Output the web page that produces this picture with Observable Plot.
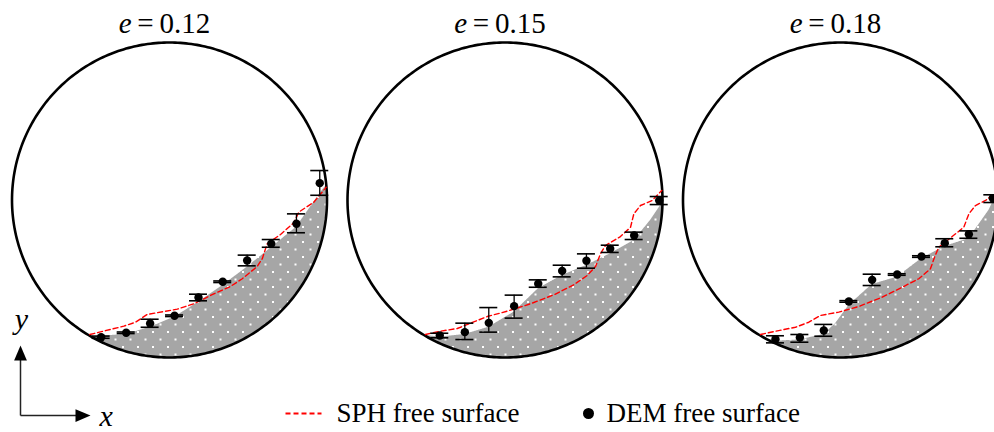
<!DOCTYPE html>
<html>
<head>
<meta charset="utf-8">
<script src="https://cdn.jsdelivr.net/npm/d3@7"></script>
<script src="https://cdn.jsdelivr.net/npm/@observablehq/plot@0.6"></script>
<style>
  html, body { margin: 0; padding: 0; background: #fff; overflow: hidden; }
  #chart svg { display: block; }
</style>
</head>
<body>
<div id="chart"></div>
<script>
// ===== DATA (drum coordinates: origin at drum centre, unit = drum radius) =====
const eLabels = ["0.12", "0.15", "0.18"];

// --- e = 0.12 ---
const demX_012  = [-0.434, -0.275, -0.123, 0.032, 0.184, 0.338, 0.493, 0.646, 0.806, 0.954];
const demY_012  = [-0.871, -0.843, -0.784, -0.735, -0.619, -0.519, -0.384, -0.278, -0.151, 0.107];
const demLo_012 = [-0.878, -0.848, -0.808, -0.740, -0.640, -0.524, -0.418, -0.300, -0.208, 0.030];
const demHi_012 = [-0.864, -0.838, -0.757, -0.730, -0.598, -0.514, -0.350, -0.251, -0.088, 0.187];
const sphX_012  = [-0.506, -0.290, -0.216, -0.142, 0.049, 0.154, 0.281, 0.387, 0.462, 0.557, 0.589, 0.620, 0.705, 0.789, 0.821, 0.916, 0.995];
const sphY_012  = [-0.854, -0.801, -0.776, -0.727, -0.693, -0.659, -0.596, -0.549, -0.500, -0.422, -0.373, -0.278, -0.219, -0.145, -0.077, -0.014, 0.081];
const bedX_012  = [-0.481, -0.275, -0.123, 0.032, 0.184, 0.338, 0.493, 0.646, 0.806, 0.954, 0.995];
const bedY_012  = [-0.867, -0.854, -0.808, -0.744, -0.649, -0.543, -0.427, -0.303, -0.173, 0.039, 0.092];

// --- e = 0.15 ---
const demX_015  = [-0.414, -0.255, -0.103, 0.058, 0.211, 0.363, 0.517, 0.668, 0.820, 0.979];
const demY_015  = [-0.860, -0.839, -0.780, -0.674, -0.532, -0.450, -0.386, -0.310, -0.225, -0.003];
const demLo_015 = [-0.875, -0.886, -0.839, -0.750, -0.554, -0.488, -0.433, -0.333, -0.251, -0.029];
const demHi_015 = [-0.846, -0.782, -0.683, -0.604, -0.507, -0.414, -0.342, -0.287, -0.204, 0.022];
const sphX_015  = [-0.505, -0.410, -0.303, -0.219, -0.113, 0.014, 0.162, 0.310, 0.437, 0.522, 0.575, 0.606, 0.638, 0.733, 0.797, 0.818, 0.860, 0.935, 0.995];
const sphY_015  = [-0.854, -0.833, -0.816, -0.782, -0.740, -0.706, -0.659, -0.602, -0.538, -0.479, -0.422, -0.342, -0.289, -0.232, -0.173, -0.088, -0.035, -0.003, 0.060];
const bedX_015  = [-0.500, -0.414, -0.255, -0.103, 0.058, 0.211, 0.363, 0.517, 0.668, 0.820, 0.924, 0.998];
const bedY_015  = [-0.860, -0.871, -0.854, -0.808, -0.712, -0.564, -0.479, -0.416, -0.342, -0.257, -0.130, -0.020];

// --- e = 0.18 ---
const demX_018  = [-0.413, -0.258, -0.106, 0.053, 0.201, 0.360, 0.514, 0.662, 0.815, 0.967];
const demY_018  = [-0.884, -0.873, -0.829, -0.644, -0.507, -0.473, -0.359, -0.274, -0.217, 0.011];
const demLo_018 = [-0.907, -0.903, -0.865, -0.649, -0.543, -0.478, -0.364, -0.297, -0.243, -0.016];
const demHi_018 = [-0.862, -0.854, -0.790, -0.639, -0.471, -0.468, -0.354, -0.246, -0.196, 0.033];
const sphX_018  = [-0.508, -0.413, -0.286, -0.201, -0.127, -0.011, 0.116, 0.265, 0.392, 0.497, 0.571, 0.597, 0.624, 0.709, 0.783, 0.815, 0.857, 0.921, 0.978, 0.997];
const sphY_018  = [-0.854, -0.833, -0.808, -0.776, -0.733, -0.712, -0.676, -0.617, -0.554, -0.500, -0.437, -0.363, -0.300, -0.232, -0.173, -0.088, -0.035, -0.003, 0.043, 0.067];
const bedX_018  = [-0.497, -0.413, -0.258, -0.106, -0.032, 0.053, 0.201, 0.360, 0.514, 0.662, 0.815, 0.942, 0.997];
const bedY_018  = [-0.871, -0.897, -0.888, -0.854, -0.786, -0.670, -0.537, -0.490, -0.373, -0.295, -0.246, -0.067, 0.048];

const legendLabels = ["SPH free surface", "DEM free surface"];
const axisLabels = ["x", "y"];

// ===== LAYOUT =====
const W = 994, H = 432;
const R_PX = 157.5;            // drum radius in pixels
const CX0_PX = 169;            // first drum centre (px)
const CY_PX = 199.5;           // drum centre height (px)
const GAP = 335.5 / R_PX;      // drum spacing in drum radii
const at = (px, py) => ({x: (px - CX0_PX) / R_PX, y: (CY_PX - py) / R_PX});

const SERIF = "Liberation Serif";

// ===== TABLES =====
const panels = [
  {dx: demX_012, dy: demY_012, lo: demLo_012, hi: demHi_012, sx: sphX_012, sy: sphY_012, bx: bedX_012, by: bedY_012},
  {dx: demX_015, dy: demY_015, lo: demLo_015, hi: demHi_015, sx: sphX_015, sy: sphY_015, bx: bedX_015, by: bedY_015},
  {dx: demX_018, dy: demY_018, lo: demLo_018, hi: demHi_018, sx: sphX_018, sy: sphY_018, bx: bedX_018, by: bedY_018}
];

const dem = [], sph = [], bed = [], rim = [], titles = [];
panels.forEach((p, i) => {
  const off = i * GAP;
  p.dx.forEach((x, j) => dem.push({drum: i, x: off + x, y: p.dy[j], lo: p.lo[j], hi: p.hi[j]}));
  p.sx.forEach((x, j) => sph.push({drum: i, x: off + x, y: p.sy[j]}));
  // granular bed: between the drum wall (bottom arc) and the measured bed surface
  const top = d3.scaleLinear().domain(p.bx).range(p.by).clamp(true);
  const u0 = p.bx[0], u1 = p.bx[p.bx.length - 1], n = 400;
  for (let k = 0; k <= n; ++k) {
    const u = u0 + (u1 - u0) * k / n;
    const h = Math.sqrt(Math.max(0, 1 - u * u));
    const y1 = -h;
    const y2 = Math.max(y1, Math.min(top(u), h));
    bed.push({drum: i, x: off + u, y1, y2});
  }
  // drum wall
  for (let a = 0; a <= 360; a += 1) {
    const t = a * Math.PI / 180;
    rim.push({drum: i, x: off + Math.cos(t), y: Math.sin(t)});
  }
  titles.push({x: off, e: eLabels[i]});
});

// ===== ANNOTATION POSITIONS (layout) =====
const TITLE_Y = (CY_PX - 32) / R_PX;
const TITLE_SHIFT = -38 / R_PX;
const CAP = 9 / R_PX;
const axO = at(20, 415), axYTip = at(20, 352.5), axXTip = at(82.5, 415);
const yLab = at(21, 328), xLab = at(99, 425);
const legSph0 = at(285, 413), legSph1 = at(321, 413), legSphT = at(336, 413);
const legDem = at(588, 413), legDemT = at(606, 413);

const triUp = {draw(ctx, size) { const r = Math.sqrt(size / Math.PI); ctx.moveTo(0, -r); ctx.lineTo(0.85 * r, r); ctx.lineTo(-0.85 * r, r); ctx.closePath(); }};
const triRight = {draw(ctx, size) { const r = Math.sqrt(size / Math.PI); ctx.moveTo(r, 0); ctx.lineTo(-r, -0.85 * r); ctx.lineTo(-r, 0.85 * r); ctx.closePath(); }};

const chart = Plot.plot({
  width: W, height: H,
  margin: 0,
  x: {domain: [(0 - CX0_PX) / R_PX, (W - CX0_PX) / R_PX], axis: null},
  y: {domain: [(CY_PX - H) / R_PX, CY_PX / R_PX], axis: null},
  marks: [
    // granular bed
    Plot.areaY(bed, {x: "x", y1: "y1", y2: "y2", z: "drum", fill: "url(#grain)", stroke: "none"}),
    // drum walls
    Plot.line(rim, {x: "x", y: "y", z: "drum", stroke: "#000", strokeWidth: 2.6}),
    // SPH free surface
    Plot.line(sph, {x: "x", y: "y", z: "drum", stroke: "#ff0000", strokeWidth: 1.4, strokeDasharray: "5,3"}),
    // DEM free surface with error bars
    Plot.ruleX(dem, {x: "x", y1: "lo", y2: "hi", stroke: "#000", strokeWidth: 1.3}),
    Plot.ruleY(dem, {y: "hi", x1: d => d.x - CAP, x2: d => d.x + CAP, stroke: "#000", strokeWidth: 1.6}),
    Plot.ruleY(dem, {y: "lo", x1: d => d.x - CAP, x2: d => d.x + CAP, stroke: "#000", strokeWidth: 1.6}),
    Plot.dot(dem, {x: "x", y: "y", r: 4.2, fill: "#000", stroke: "none"}),
    // titles
    Plot.text(titles, {x: d => d.x + TITLE_SHIFT, y: () => TITLE_Y, text: () => "e", textAnchor: "end", lineAnchor: "bottom",
      fontSize: 29, fontStyle: "italic", fontFamily: SERIF, fill: "#000"}),
    Plot.text(titles, {x: d => d.x + TITLE_SHIFT, y: () => TITLE_Y, text: d => "\u2009=\u2009" + d.e, textAnchor: "start", lineAnchor: "bottom",
      fontSize: 29, fontFamily: SERIF, fill: "#000"}),
    // coordinate indicator
    Plot.link([0], {x1: () => axO.x, y1: () => axO.y, x2: () => axYTip.x, y2: () => axYTip.y, stroke: "#222", strokeWidth: 1.5}),
    Plot.link([0], {x1: () => axO.x, y1: () => axO.y, x2: () => axXTip.x, y2: () => axXTip.y, stroke: "#222", strokeWidth: 1.5}),
    Plot.dot([0], {x: () => axYTip.x, y: () => axYTip.y, r: 7.5, symbol: triUp, fill: "#000", stroke: "none"}),
    Plot.dot([0], {x: () => axXTip.x, y: () => axXTip.y, r: 7.5, symbol: triRight, fill: "#000", stroke: "none"}),
    Plot.text([axisLabels[1]], {x: () => yLab.x, y: () => yLab.y, text: d => d, textAnchor: "middle", lineAnchor: "bottom",
      fontSize: 30, fontStyle: "italic", fontFamily: SERIF, fill: "#000"}),
    Plot.text([axisLabels[0]], {x: () => xLab.x, y: () => xLab.y, text: d => d, textAnchor: "start", lineAnchor: "bottom",
      fontSize: 30, fontStyle: "italic", fontFamily: SERIF, fill: "#000"}),
    // legend
    Plot.link([0], {x1: () => legSph0.x, y1: () => legSph0.y, x2: () => legSph1.x, y2: () => legSph1.y,
      stroke: "#ff0000", strokeWidth: 1.8, strokeDasharray: "5,3"}),
    Plot.text([legendLabels[0]], {x: () => legSphT.x, y: () => legSphT.y, text: d => d, textAnchor: "start",
      fontSize: 27, fontFamily: SERIF, fill: "#000"}),
    Plot.dot([0], {x: () => legDem.x, y: () => legDem.y, r: 5.5, fill: "#000", stroke: "none"}),
    Plot.text([legendLabels[1]], {x: () => legDemT.x, y: () => legDemT.y, text: d => d, textAnchor: "start",
      fontSize: 27, fontFamily: SERIF, fill: "#000"})
  ]
});

// texture for the granular bed (grey with a staggered lattice of white grains)
const defs = d3.select(chart).insert("defs", ":first-child");
const pat = defs.append("pattern").attr("id", "grain").attr("patternUnits", "userSpaceOnUse")
  .attr("x", 2).attr("y", 1).attr("width", 15).attr("height", 15);
pat.append("rect").attr("width", 15).attr("height", 15).attr("fill", "#a6a6a6");
pat.append("rect").attr("x", 0).attr("y", 0).attr("width", 2).attr("height", 2).attr("fill", "#ffffff");
pat.append("rect").attr("x", 7.5).attr("y", 7.5).attr("width", 2).attr("height", 2).attr("fill", "#ffffff");

document.getElementById("chart").appendChild(chart);
</script>
</body>
</html>
